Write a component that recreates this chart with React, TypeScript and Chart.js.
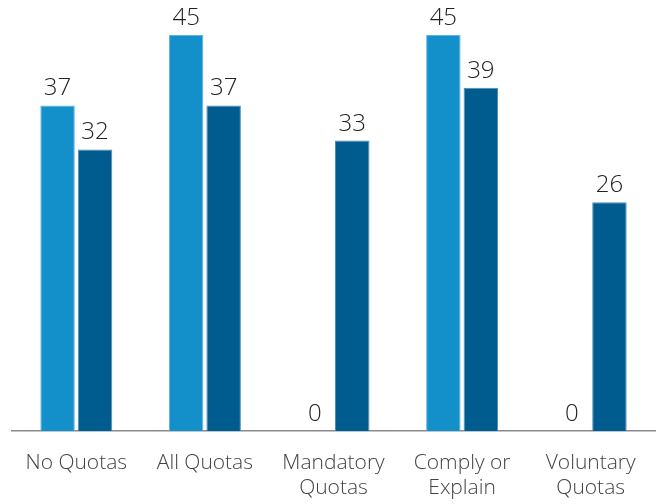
import React, { useEffect, useRef } from "react";
import { Chart, registerables } from "chart.js";

Chart.register(...registerables);

const categories: (string | string[])[] = [
  "No Quotas",
  "All Quotas",
  ["Mandatory", "Quotas"],
  ["Comply or", "Explain"],
  ["Voluntary", "Quotas"],
];
const seriesA = [37, 45, 0, 45, 0];
const seriesB = [32, 37, 33, 39, 26];

const FONT = "'Open Sans', sans-serif";

const labelPlugin = {
  id: "barLabels",
  afterDatasetsDraw(chart: any) {
    const ctx = chart.ctx;
    ctx.save();
    ctx.font = `300 24px ${FONT}`;
    ctx.fillStyle = "#222222";
    ctx.textAlign = "center";
    ctx.textBaseline = "alphabetic";
    chart.data.datasets.forEach((ds: any, di: number) => {
      const meta = chart.getDatasetMeta(di);
      meta.data.forEach((bar: any, i: number) => {
        ctx.fillText(String(ds.data[i]), bar.x, bar.y - 10);
      });
    });
    ctx.restore();
  },
};

export default function App() {
  const ref = useRef<HTMLCanvasElement>(null);
  useEffect(() => {
    const chart = new Chart(ref.current!, {
      type: "bar",
      data: {
        labels: categories,
        datasets: [
          {
            data: seriesA,
            backgroundColor: "#138fca",
            borderColor: "#5fb5e0",
            borderWidth: 1,
            barPercentage: 0.92,
            categoryPercentage: 0.583,
          },
          {
            data: seriesB,
            backgroundColor: "#005b8f",
            borderColor: "#4d8cb1",
            borderWidth: 1,
            barPercentage: 0.92,
            categoryPercentage: 0.583,
          },
        ],
      },
      options: {
        animation: false,
        responsive: false,
        layout: { padding: { top: 35, left: 12, right: 2, bottom: -9 } },
        plugins: { legend: { display: false }, tooltip: { enabled: false } },
        scales: {
          y: { display: false, min: 0, max: 45 },
          x: {
            grid: { display: false },
            border: { display: true, color: "#8a8a8a", width: 1.5 },
            ticks: {
              color: "#444444",
              font: { family: FONT, size: 21, weight: "300" as any, lineHeight: 1.19 },
              padding: 12,
              maxRotation: 0,
              autoSkip: false,
            },
          },
        },
      },
      plugins: [labelPlugin],
    });
    return () => chart.destroy();
  }, []);
  return (
    <div style={{ position: "fixed", left: 0, top: 0, width: 657, height: 504, background: "#fff" }}>
      <canvas ref={ref} width={657} height={504} style={{ width: 657, height: 504 }} />
    </div>
  );
}
